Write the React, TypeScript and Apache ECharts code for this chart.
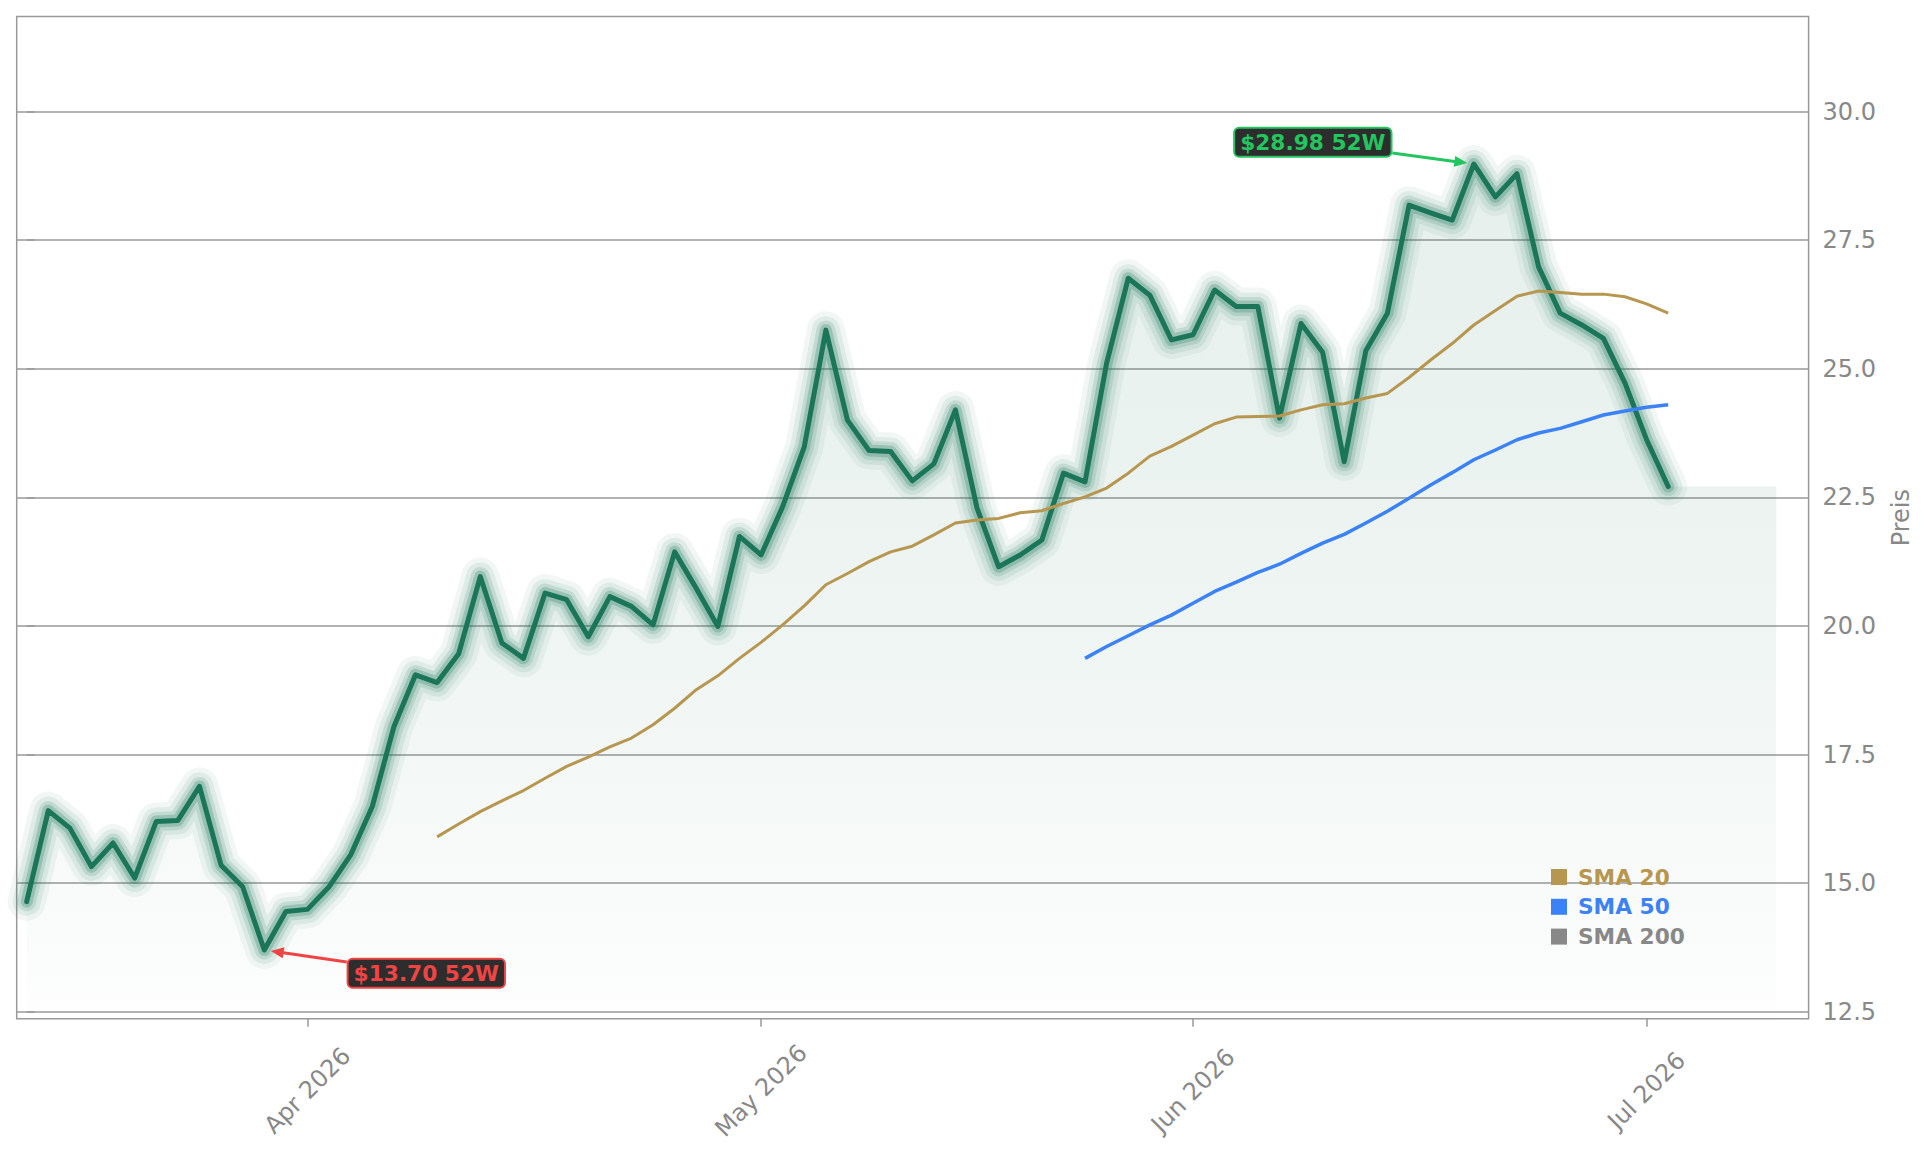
import React, { useEffect, useRef } from 'react';
import * as echarts from 'echarts';

// ---- data ----
const dates: string[] = [
  '2026-03-13', '2026-03-16', '2026-03-17', '2026-03-18', '2026-03-19', '2026-03-20', '2026-03-23', '2026-03-24', '2026-03-25', '2026-03-26', '2026-03-27', '2026-03-30', '2026-03-31',
  '2026-04-01', '2026-04-02', '2026-04-06', '2026-04-07', '2026-04-08', '2026-04-09', '2026-04-10', '2026-04-13', '2026-04-14', '2026-04-15', '2026-04-16', '2026-04-17', '2026-04-20', '2026-04-21', '2026-04-22', '2026-04-23', '2026-04-24', '2026-04-27', '2026-04-28', '2026-04-29', '2026-04-30',
  '2026-05-01', '2026-05-04', '2026-05-05', '2026-05-06', '2026-05-07', '2026-05-08', '2026-05-11', '2026-05-12', '2026-05-13', '2026-05-14', '2026-05-15', '2026-05-18', '2026-05-19', '2026-05-20', '2026-05-21', '2026-05-22', '2026-05-26', '2026-05-27', '2026-05-28', '2026-05-29',
  '2026-06-01', '2026-06-02', '2026-06-03', '2026-06-04', '2026-06-05', '2026-06-08', '2026-06-09', '2026-06-10', '2026-06-11', '2026-06-12', '2026-06-15', '2026-06-16', '2026-06-17', '2026-06-18', '2026-06-22', '2026-06-23', '2026-06-24', '2026-06-25', '2026-06-26', '2026-06-29', '2026-06-30',
  '2026-07-01', '2026-07-02',
];

const prices: number[] = [
  14.64, 16.41, 16.07, 15.32, 15.78, 15.10, 16.20, 16.22, 16.88, 15.35,
  14.93, 13.70, 14.45, 14.49, 14.93, 15.55, 16.49, 18.04, 19.05, 18.90,
  19.46, 20.96, 19.67, 19.37, 20.64, 20.51, 19.79, 20.57, 20.38, 20.02,
  21.44, 20.73, 19.99, 21.74, 21.38, 22.32, 23.48, 25.75, 24.00, 23.41,
  23.39, 22.82, 23.15, 24.20, 22.29, 21.15, 21.38, 21.67, 22.97, 22.80,
  25.11, 26.76, 26.43, 25.56, 25.66, 26.53, 26.21, 26.21, 24.04, 25.88,
  25.32, 23.19, 25.35, 26.08, 28.18, 28.03, 27.89, 28.98, 28.34, 28.79,
  26.98, 26.08, 25.85, 25.59, 24.72, 23.62, 22.71,
];

const sma20Start = 19;
const sma20: number[] = [
  15.90, 16.15, 16.39, 16.60, 16.80, 17.04, 17.27, 17.45, 17.65, 17.82,
  18.08, 18.40, 18.76, 19.03, 19.37, 19.68, 20.02, 20.39, 20.80, 21.02,
  21.25, 21.44, 21.55, 21.77, 22.00, 22.06, 22.09, 22.20, 22.24, 22.38,
  22.51, 22.68, 22.97, 23.30, 23.49, 23.71, 23.93, 24.06, 24.07, 24.08,
  24.20, 24.30, 24.32, 24.43, 24.52, 24.83, 25.17, 25.49, 25.85, 26.13,
  26.41, 26.51, 26.48, 26.45, 26.45, 26.40, 26.26, 26.08,
];

const sma50Start = 49;
const sma50: number[] = [
  19.37, 19.60, 19.81, 20.02, 20.21, 20.44, 20.67, 20.85, 21.04, 21.20,
  21.41, 21.61, 21.78, 22.00, 22.23, 22.48, 22.74, 22.98, 23.23, 23.42,
  23.62, 23.75, 23.84, 23.97, 24.10, 24.18, 24.25, 24.30,
];

const sma200: number[] = [];

const yTicks: number[] = [12.5, 15, 17.5, 20, 22.5, 25, 27.5, 30];
const fillEndIndex = 81;
const legendNames: string[] = ['SMA 20', 'SMA 50', 'SMA 200'];

const MONTHS = ['Jan', 'Feb', 'Mar', 'Apr', 'May', 'Jun', 'Jul', 'Aug', 'Sep', 'Oct', 'Nov', 'Dec'];

// ---- styles ----
const FONT = 'DejaVu Sans';
const AXIS_FONT_SIZE = 24;
const GRAY = '#888888';
const GRID_GRAY = '#999999';
const PRICE_COLOR = '#1b7558';
const SMA20_COLOR = '#b7964f';
const SMA50_COLOR = '#3b82f6';
const SMA200_COLOR = '#888888';
const UP = '#22c55e';
const DOWN = '#ef4444';

const glowLayers = [
  { w: 38, a: 0.06 },
  { w: 28, a: 0.09 },
  { w: 19, a: 0.14 },
  { w: 12, a: 0.24 },
];

function monthStarts(): number[] {
  const out: number[] = [];
  for (let i = 1; i < dates.length; i++) {
    if (dates[i].slice(0, 7) !== dates[i - 1].slice(0, 7)) out.push(i);
  }
  return out;
}

function monthLabel(v: number): string {
  const d = dates[Math.round(v)];
  if (!d) return '';
  return MONTHS[parseInt(d.slice(5, 7), 10) - 1] + ' ' + d.slice(0, 4);
}

function annotation(
  chart: echarts.ECharts,
  idx: number,
  value: number,
  offset: [number, number],
  color: string,
  text: string
): any[] {
  const p = chart.convertToPixel({ xAxisIndex: 0, yAxisIndex: 0 }, [idx, value]) as number[];
  const px = p[0];
  const py = p[1];
  const cx = px + offset[0];
  const cy = py + offset[1];
  const halfW = 77.5;
  const halfH = 15;
  const dx = px - cx;
  const dy = py - cy;
  const len = Math.hypot(dx, dy);
  const ux = dx / len;
  const uy = dy / len;
  const tEdge = Math.min(halfW / Math.abs(ux || 1e-9), halfH / Math.abs(uy || 1e-9)) + 2;
  const sx = cx + ux * tEdge;
  const sy = cy + uy * tEdge;
  const ex = px - ux * 6.5;
  const ey = py - uy * 6.5;
  const headLen = 13;
  const headW = 5.5;
  const bx = ex - ux * headLen;
  const by = ey - uy * headLen;
  const nx = -uy;
  const ny = ux;
  return [
    {
      type: 'line',
      shape: { x1: sx, y1: sy, x2: bx + ux * 2, y2: by + uy * 2 },
      style: { stroke: color, lineWidth: 3 },
      z: 100,
    },
    {
      type: 'polygon',
      shape: { points: [[ex, ey], [bx + nx * headW, by + ny * headW], [bx - nx * headW, by - ny * headW]] },
      style: { fill: color },
      z: 100,
    },
    {
      type: 'text',
      x: cx,
      y: cy,
      style: {
        text,
        fill: color,
        fontSize: 21.7,
        fontWeight: 'bold',
        fontFamily: FONT,
        align: 'center',
        verticalAlign: 'middle',
        backgroundColor: '#2d2d2d',
        borderColor: color,
        borderWidth: 2,
        borderRadius: 4,
        padding: [3, 5, 2, 5],
      },
      z: 101,
    },
  ];
}

export default function App() {
  const ref = useRef<HTMLDivElement>(null);

  useEffect(() => {
    if (!ref.current) return;
    const chart = echarts.init(ref.current, null, { renderer: 'svg' });

    const priceData = prices.map((v, i) => [i, v]);
    const fillData = priceData.concat([[fillEndIndex, prices[prices.length - 1]]]);
    const sma20Data = sma20.map((v, i) => [sma20Start + i, v]);
    const sma50Data = sma50.map((v, i) => [sma50Start + i, v]);
    const ticksX = monthStarts();

    const glowSeries = glowLayers.map((g, k) => ({
      name: 'glow' + k,
      type: 'line',
      data: priceData,
      symbol: 'none',
      silent: true,
      z: 2,
      lineStyle: { width: g.w, color: `rgba(27,117,88,${g.a})`, join: 'round', cap: 'round' },
      emphasis: { disabled: true },
    }));

    const option: any = {
      animation: false,
      backgroundColor: '#ffffff',
      grid: {
        left: 16.7,
        top: 16.6,
        right: 1929 - 1808.6,
        bottom: 1153 - 1018.7,
        show: true,
        borderColor: GRID_GRAY,
        borderWidth: 1.5,
        backgroundColor: 'transparent',
        containLabel: false,
        outerBoundsMode: 'none',
      },
      legend: {
        show: true,
        orient: 'vertical',
        left: 1551,
        top: 866,
        padding: 0,
        itemWidth: 16,
        itemHeight: 16,
        itemGap: 7.8,
        icon: 'rect',
        selectedMode: false,
        textStyle: { fontSize: 21.7, fontWeight: 'bold', fontFamily: FONT, padding: [0, 0, 0, 6] },
        data: [
          { name: legendNames[0], textStyle: { color: SMA20_COLOR } },
          { name: legendNames[1], textStyle: { color: SMA50_COLOR } },
          { name: legendNames[2], textStyle: { color: SMA200_COLOR } },
        ],
      },
      xAxis: {
        type: 'value',
        min: -0.463,
        max: 82.5,
        axisLine: { show: false },
        splitLine: { show: false },
        axisTick: { show: true, customValues: ticksX, length: 8, lineStyle: { color: GRID_GRAY, width: 1.5 } },
        axisLabel: {
          customValues: ticksX,
          formatter: (v: number) => monthLabel(v),
          rotate: 45,
          align: 'center',
          verticalAlign: 'middle',
          margin: 72,
          color: GRAY,
          fontSize: AXIS_FONT_SIZE,
          fontFamily: FONT,
        },
      },
      yAxis: {
        type: 'value',
        position: 'right',
        min: 12.365,
        max: 31.845,
        axisLine: { show: false },
        axisTick: { show: true, customValues: yTicks, length: 8, lineStyle: { color: GRID_GRAY, width: 1.5 } },
        axisLabel: {
          customValues: yTicks,
          formatter: (v: number) => v.toFixed(1),
          margin: 14,
          color: GRAY,
          fontSize: AXIS_FONT_SIZE,
          fontFamily: FONT,
        },
        splitLine: { show: true, lineStyle: { color: GRID_GRAY, width: 1.5 } },
        name: 'Preis',
        nameLocation: 'middle',
        nameRotate: 90,
        nameGap: 80,
        nameTextStyle: { color: GRAY, fontSize: AXIS_FONT_SIZE, fontFamily: FONT },
      },
      series: [
        {
          name: 'fill',
          type: 'line',
          data: fillData,
          symbol: 'none',
          silent: true,
          z: 1,
          lineStyle: { width: 0, opacity: 0 },
          areaStyle: {
            origin: 'start',
            color: {
              type: 'linear', x: 0, y: 0, x2: 0, y2: 1,
              colorStops: [
                { offset: 0, color: 'rgba(27,117,88,0.16)' },
                { offset: 0.5, color: 'rgba(27,117,88,0.11)' },
                { offset: 0.82, color: 'rgba(27,117,88,0.05)' },
                { offset: 1, color: 'rgba(27,117,88,0.012)' },
              ],
            },
          },
          emphasis: { disabled: true },
        },
        ...glowSeries,
        {
          name: 'Preis',
          type: 'line',
          data: priceData,
          symbol: 'none',
          z: 3,
          lineStyle: { width: 5, color: PRICE_COLOR, join: 'round', cap: 'round' },
          emphasis: { disabled: true },
        },
        {
          name: legendNames[0],
          type: 'line',
          data: sma20Data,
          symbol: 'none',
          z: 4,
          color: SMA20_COLOR,
          itemStyle: { color: SMA20_COLOR },
          lineStyle: { width: 3, color: SMA20_COLOR },
          emphasis: { disabled: true },
        },
        {
          name: legendNames[1],
          type: 'line',
          data: sma50Data,
          symbol: 'none',
          z: 4,
          color: SMA50_COLOR,
          itemStyle: { color: SMA50_COLOR },
          lineStyle: { width: 3.5, color: SMA50_COLOR },
          emphasis: { disabled: true },
        },
        {
          name: legendNames[2],
          type: 'line',
          data: sma200,
          symbol: 'none',
          z: 4,
          color: SMA200_COLOR,
          itemStyle: { color: SMA200_COLOR },
          lineStyle: { width: 3, color: SMA200_COLOR },
          emphasis: { disabled: true },
        },
      ],
    };

    chart.setOption(option);

    let maxI = 0;
    let minI = 0;
    prices.forEach((v, i) => {
      if (v > prices[maxI]) maxI = i;
      if (v < prices[minI]) minI = i;
    });

    const graphics = [
      ...annotation(chart, maxI, prices[maxI], [-161, -21.7], UP, `$${prices[maxI].toFixed(2)} 52W`),
      ...annotation(chart, minI, prices[minI], [162, 23.3], DOWN, `$${prices[minI].toFixed(2)} 52W`),
    ];
    chart.setOption({ graphic: graphics });

    return () => chart.dispose();
  }, []);

  return (
    <div
      ref={ref}
      style={{ position: 'fixed', left: 0, top: 0, width: 1929, height: 1153, background: '#ffffff' }}
    />
  );
}
